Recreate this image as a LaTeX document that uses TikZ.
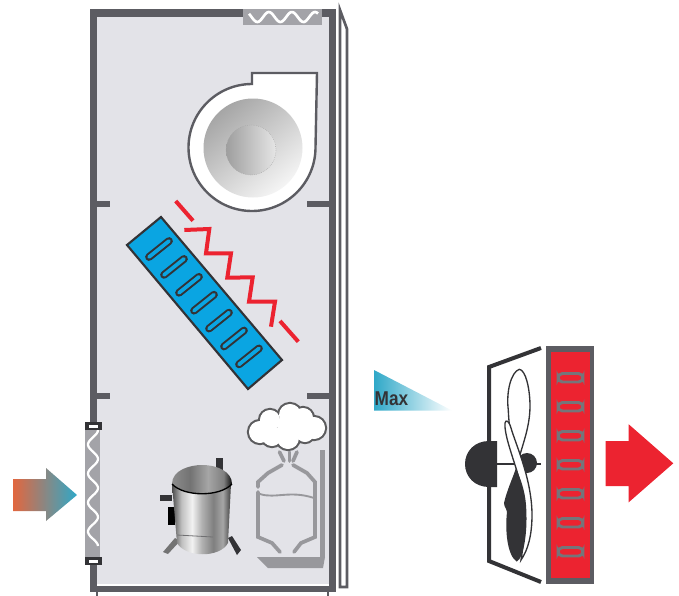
\documentclass[tikz,border=0pt]{standalone}
\usepackage{fontspec}
\setsansfont{Liberation Sans}
\usepackage{xcolor}
\usepackage{tikz}
\definecolor{cabinet}{HTML}{E3E3E8}
\definecolor{wall}{HTML}{5C5C62}
\definecolor{inkdark}{HTML}{333336}
\definecolor{filtergray}{HTML}{A3A3A8}
\definecolor{tankgray}{HTML}{98989C}
\definecolor{coilblue}{HTML}{0AA5E2}
\definecolor{hotred}{HTML}{EC2330}
\definecolor{maxblue}{HTML}{2FA8C8}
\definecolor{inletorange}{HTML}{E2673F}
\definecolor{inletgray}{HTML}{9C8F8C}
\pgfdeclarehorizontalshading{metalbody}{100bp}{color(0bp)=(black!70);color(25bp)=(black!70);color(33bp)=(black!25);color(42bp)=(black!5);color(50bp)=(black!30);color(60bp)=(black!50);color(68bp)=(black!35);color(75bp)=(black!75);color(100bp)=(black!75)}
\pgfdeclarehorizontalshading{metaldome}{100bp}{color(0bp)=(black!45);color(25bp)=(black!45);color(40bp)=(black!55);color(55bp)=(black!35);color(68bp)=(black!50);color(75bp)=(black!95);color(100bp)=(black!95)}
\tikzset{
  wallbar/.style={fill=wall,draw=none},
  redline/.style={hotred,line width=3pt},
  tankline/.style={tankgray,line width=2.8pt,line cap=round},
  puff/.style={line width=1.7pt,draw=inkdark!80},
}
\begin{document}
\begin{tikzpicture}[x=0.75pt,y=-0.75pt]
\useasboundingbox (0,0) rectangle (679,596);
% cabinet
\fill[cabinet] (97,17) rectangle (329,584);
\fill[wallbar] (90,9) rectangle (336,17);
\fill[wallbar] (90,9) rectangle (97,592);
\fill[wallbar] (329,9) rectangle (336,592);
\fill[wallbar] (90,586) rectangle (336,592);
\fill[wallbar] (96,592) rectangle (98,596);
\fill[wallbar] (327,592) rectangle (329,596);
\foreach \y in {204,396} {
  \fill[wallbar] (97,\y-3) rectangle (110,\y+3);
  \fill[wallbar] (307,\y-3) rectangle (329,\y+3);
}
\draw[wall,line width=2pt,line join=miter] (340,10)--(347,29)--(347,587)--(340,587)--cycle;
% top filter
\fill[filtergray] (243,9) rectangle (322,25);
\draw[white,line width=2pt] plot[smooth,samples=50,domain=249:318] (\x,{17+5*sin(15.6*(\x-249)-40)});
% blower
\draw[fill=white,draw=wall,line width=1.8pt] (317,73)--(252,73)--(252,84) arc (270:0:63.5 and 63.5) --cycle;
\shade[top color=black!35,bottom color=black!4,shading angle=40] (253,148) circle (49.5);
\shade[left color=black!38,right color=black!10,draw=black!35,densely dotted] (251,150) circle (25);
% evaporator coil
\draw[fill=coilblue,draw=inkdark,line width=1.6pt] (161,217)--(127,245)--(248,389)--(282,360)--cycle;
\foreach \i in {0,...,6} {
  \draw[inkdark,line width=5.8pt,line cap=round] ({149+15*\i},{257+17.9*\i})--({169+15*\i},{241+17.9*\i});
  \draw[coilblue,line width=2.8pt,line cap=round] ({149+15*\i},{257+17.9*\i})--({169+15*\i},{241+17.9*\i});
}
\draw[redline] (175.7,201)--(193,220.7);
\draw[redline] (184.3,230)--(209.3,229)--(206,253.3)--(231,253.3)--(227.3,277.7)--(252.7,277.3)--(249,301.7)--(275,301.7)--(271,326.7);
\draw[redline] (280,321)--(298.3,341.7);
% side filter
\fill[filtergray] (85,422) rectangle (100,564);
\draw[white,line width=1.7pt] plot[smooth,samples=70,variable=\t,domain=430:546] ({93+5*cos(12.4*(\t-430))},\t);
\foreach \y in {422,557} {
  \fill[inkdark] (85,\y) rectangle (102,\y+7.5);
  \fill[white] (89,\y+3) rectangle (98,\y+6);
}
% inlet arrow
\shade[left color=inletorange,middle color=inletgray,right color=maxblue]
  (13,479)--(46,479)--(46,468)--(77,495)--(46,521)--(46,511)--(13,511)--cycle;
% compressor
\fill[inkdark] (216,458) rectangle (223,470);
\fill[inkdark] (160,495) rectangle (172,501);
\fill[black] (168,507) rectangle (175,525);
\fill[black!55] (175,538)--(180,541)--(168,554)--(163,552)--cycle;
\fill[inkdark] (228,538)--(232,536)--(241,550)--(237,555)--cycle;
\shade[shading=metalbody] (172,484)--(231,484)--(228,543) .. controls (220,558) and (186,558) .. (177,543)--cycle;
\shade[shading=metaldome] (172,484) .. controls (172,470) and (190,465) .. (202,465) .. controls (218,465) and (232,472) .. (232,484) .. controls (220,497) and (184,497) .. (172,484)--cycle;
\draw[black,line width=1pt] (172,484) .. controls (184,497) and (220,497) .. (232,484);
\draw[inkdark!70,line width=.6pt] (177,535)--(213,537);
% receiver
\draw[tankline] (282,465) -- (268,473) -- (258,482)--(258,487);
\draw[tankline] (258,492)--(258,537) -- (272,543) -- (280,552);
\draw[tankline] (293,465) -- (307,473) -- (315,482)--(315,537) -- (301,543) -- (294,552);
\draw[tankgray,line width=1.4pt] (260,494) .. controls (275,499) and (290,490) .. (314,498);
\draw[tankline] (279.5,452)--(284,461);
\draw[tankline] (289.5,452)--(289.5,461);
\draw[tankline] (297,452)--(293,461);
\fill[tankgray] (320,450) rectangle (325,557);
\fill[tankgray] (257,557)--(325,557)--(323,568)--(268,568)--cycle;
% cloud
\foreach \cx/\cy/\r in {290/415/12,270/420/11,260/432/12,272/436/11,288/438/12,305/433/10,314/428/12,303/418/11} {
  \draw[puff,fill=white] (\cx,\cy) circle (\r);
}
\foreach \cx/\cy/\r in {290/415/12,270/420/11,260/432/12,272/436/11,288/438/12,305/433/10,314/428/12,303/418/11,288/426/12} {
  \fill[white] (\cx,\cy) circle (\r-1);
}
% speed wedge
\shade[left color=maxblue,right color=white] (374,370)--(374,410.5)--(452,410.5)--cycle;
\node[inner sep=0pt,anchor=base west,xscale=.86,font=\sffamily\bfseries\fontsize{15}{15}\selectfont,text=inkdark] (maxlabel) at (374.5,405.5) {Max};
% condenser
\fill[wall] (545.7,346) rectangle (594,584);
\fill[hotred] (551,352) rectangle (590,578);
\foreach \i in {0,...,6} {
  \draw[wall!85,line width=2.2pt,rounded corners=3.4pt,fill=hotred] ({558},{373.5+29*\i}) rectangle ({583},{382+29*\i});
}
% fan
\draw[inkdark,line width=3pt] (541,348)--(489,367)--(489,561)--(541,582);
\fill[inkdark] (497,441)--(497,487)--(489,487) .. controls (475,487) and (465,477) .. (465,464) .. controls (465,451) and (475,441) .. (489,441)--cycle;
\fill[inkdark] (527,463) circle (10);
\draw[inkdark,line width=1pt] (497,464)--(541,464);
\draw[inkdark,line width=1pt,fill=white] (519.3,369.3) .. controls (511,372) and (506,392) .. (508.3,410) .. controls (509,430) and (513,450) .. (517,467) .. controls (520,450) and (530,430) .. (530,406) .. controls (530,390) and (526,370) .. (519.3,369.3)--cycle;
\draw[inkdark,line width=1pt,fill=white] (505,423) .. controls (506,419) and (509,421) .. (511,428) .. controls (516,445) and (532,480) .. (532,515) .. controls (532,535) and (528,550) .. (521,560) .. controls (526,530) and (526,500) .. (518,475) .. controls (514,460) and (504,435) .. (505,423)--cycle;
\fill[inkdark] (516,468) .. controls (512,480) and (507,490) .. (504,503) .. controls (505,510) and (507,508) .. (507,512) .. controls (505,530) and (507,555) .. (516.7,561.7) .. controls (524,558) and (528,530) .. (526,505) .. controls (525,490) and (520,478) .. (516,468)--cycle;
% outlet arrow
\fill[hotred] (605.7,441)--(628.7,441)--(628.7,424.3)--(673.3,463.3)--(628.7,502.3)--(628.7,486)--(605.7,486)--cycle;
\end{tikzpicture}
\end{document}
